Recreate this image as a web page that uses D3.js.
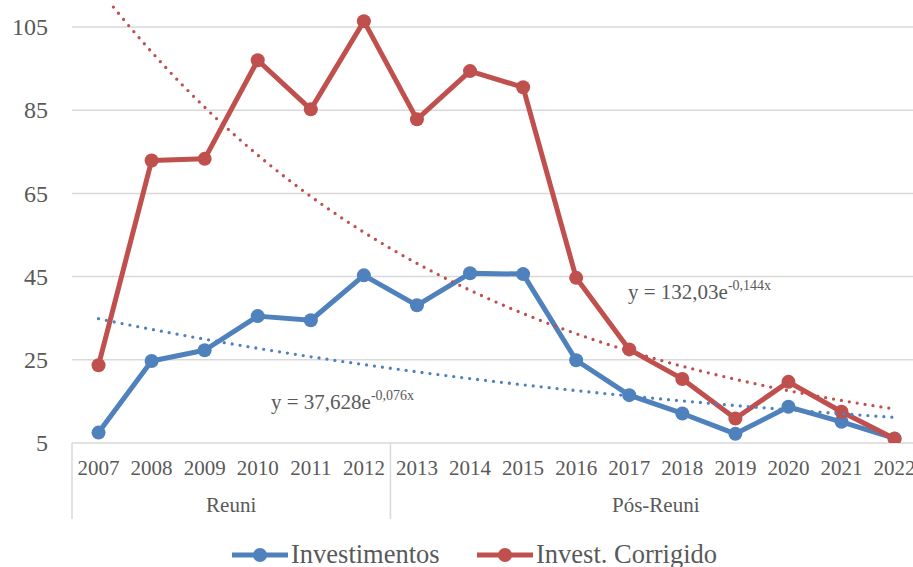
<!DOCTYPE html>
<html>
<head>
<meta charset="utf-8">
<script src="https://cdn.jsdelivr.net/npm/d3@7"></script>
<style>
    html, body { margin: 0; padding: 0; background: #fff; overflow: hidden; }
    svg { display: block; }
    svg text { font-family: 'Liberation Serif', 'DejaVu Serif', serif; }
    .grid line { stroke: #d9d9d9; stroke-width: 1.5; }
    .tick-label, .group-label, .legend-label, .equation { fill: #595959; }
    .sep { stroke: #d9d9d9; stroke-width: 1.5; }
</style>
</head>
<body>
<div id="chart"></div>
<script>
(function (d3) {
    'use strict';

    var years = ['2007', '2008', '2009', '2010', '2011', '2012', '2013', '2014',
        '2015', '2016', '2017', '2018', '2019', '2020', '2021', '2022'];
    var investimentos = [7.5, 24.7, 27.3, 35.5, 34.5, 45.3, 38.1, 45.8,
        45.6, 24.9, 16.5, 12.1, 7.2, 13.7, 10.1, 6.1];
    var corrigido = [23.7, 72.9, 73.3, 97.0, 85.2, 106.4, 82.8, 94.4,
        90.5, 44.7, 27.5, 20.4, 10.9, 19.7, 12.5, 6.0];
    var groups = [
        {name: 'Reuni', from: '2007', to: '2012'},
        {name: 'Pós-Reuni', from: '2013', to: '2022'}
    ];
    var yTicks = [5, 25, 45, 65, 85, 105];

    // Exponential trendlines as printed on the chart: y = a * e^(b * x), x = 1..n
    var trendBlue = {a: 37.628, b: -0.076, label: '37,628', exp: '-0,076x'};
    var trendRed = {a: 132.03, b: -0.144, label: '132,03', exp: '-0,144x'};

    var blue = '#4f81bd';
    var red = '#c0504d';

    var width = 913;
    var height = 567;
    var left = 72;
    var band = 53.07;
    var yTop = 27;
    var yBottom = 443;

    var svg = d3.select('#chart').append('svg')
        .attr('width', width)
        .attr('height', height)
        .attr('font-family', 'Liberation Serif, serif')
    ;

    svg.append('defs').append('clipPath')
        .attr('id', 'plot-clip')
        .append('rect')
        .attr('x', left)
        .attr('y', 3)
        .attr('width', width - left)
        .attr('height', yBottom - 3)
    ;

    var x = d3.scaleBand()
        .domain(years)
        .range([left, left + band * years.length])
        .padding(0)
    ;
    var cx = function (d) { return x(d) + x.bandwidth() / 2; };

    var y = d3.scaleLinear()
        .domain([5, 105])
        .range([yBottom, yTop])
    ;

    // Continuous x for trendlines (1 = first category).
    var xi = d3.scaleLinear()
        .domain([1, years.length])
        .range([cx(years[0]), cx(years[years.length - 1])])
    ;

    // Gridlines
    svg.append('g')
        .attr('class', 'grid')
        .selectAll('line')
        .data(yTicks)
        .join('line')
        .attr('x1', left)
        .attr('x2', width)
        .attr('y1', function (d) { return y(d); })
        .attr('y2', function (d) { return y(d); })
    ;

    // Y labels
    svg.append('g')
        .selectAll('text')
        .data(yTicks)
        .join('text')
        .attr('class', 'tick-label')
        .attr('x', 48)
        .attr('y', function (d) { return y(d); })
        .attr('dy', '0.34em')
        .attr('text-anchor', 'end')
        .style('font-size', '24px')
        .text(function (d) { return d; })
    ;

    // X labels
    svg.append('g')
        .selectAll('text')
        .data(years)
        .join('text')
        .attr('class', 'tick-label')
        .attr('x', cx)
        .attr('y', 475)
        .attr('text-anchor', 'middle')
        .style('font-size', '21px')
        .text(function (d) { return d; })
    ;

    // Group separators and labels
    var seps = [x(groups[0].from)].concat(groups.map(function (g) { return x(g.to) + x.bandwidth(); }));
    svg.append('g')
        .selectAll('line')
        .data(seps)
        .join('line')
        .attr('class', 'sep')
        .attr('x1', function (d) { return d; })
        .attr('x2', function (d) { return d; })
        .attr('y1', yBottom)
        .attr('y2', 519)
    ;

    svg.append('g')
        .selectAll('text')
        .data(groups)
        .join('text')
        .attr('class', 'group-label')
        .attr('x', function (g) { return (x(g.from) + x(g.to) + x.bandwidth()) / 2; })
        .attr('y', 512)
        .attr('text-anchor', 'middle')
        .style('font-size', '21px')
        .text(function (g) { return g.name; })
    ;

    var plot = svg.append('g').attr('clip-path', 'url(#plot-clip)');

    var line = d3.line()
        .x(function (d, i) { return cx(years[i]); })
        .y(function (d) { return y(d); })
    ;

    drawSeries(investimentos, blue);
    drawSeries(corrigido, red);
    drawTrend(trendBlue, blue);
    drawTrend(trendRed, red);

    function drawSeries(values, color) {
        plot.append('path')
            .datum(values)
            .attr('d', line)
            .attr('fill', 'none')
            .attr('stroke', color)
            .attr('stroke-width', 5)
            .attr('stroke-linejoin', 'round')
        ;
        plot.append('g')
            .selectAll('circle')
            .data(values)
            .join('circle')
            .attr('cx', function (d, i) { return cx(years[i]); })
            .attr('cy', function (d) { return y(d); })
            .attr('r', 7)
            .attr('fill', color)
        ;
    }

    function drawTrend(t, color) {
        var pts = d3.range(1, years.length + 0.001, 0.05);
        var trend = d3.line()
            .x(function (k) { return xi(k); })
            .y(function (k) { return y(t.a * Math.exp(t.b * k)); })
        ;
        plot.append('path')
            .datum(pts)
            .attr('d', trend)
            .attr('fill', 'none')
            .attr('stroke', color)
            .attr('stroke-width', 3.3)
            .attr('stroke-linecap', 'round')
            .attr('stroke-dasharray', '0 8')
        ;
    }

    // Equation labels
    equation(trendBlue, 271, 409);
    equation(trendRed, 628, 299);

    function equation(t, ex, ey) {
        var txt = svg.append('text')
            .attr('class', 'equation')
            .attr('x', ex)
            .attr('y', ey)
            .style('font-size', '21px')
        ;
        txt.append('tspan').text('y = ' + t.label + 'e');
        txt.append('tspan')
            .attr('dy', -9)
            .style('font-size', '14px')
            .text(t.exp)
        ;
    }

    // Legend
    legend(232, 'Investimentos', blue);
    legend(477, 'Invest. Corrigido', red);

    function legend(lx, name, color) {
        var g = svg.append('g').attr('transform', translate(lx, 555));
        g.append('line')
            .attr('x1', 0)
            .attr('x2', 56)
            .attr('stroke', color)
            .attr('stroke-width', 5)
        ;
        g.append('circle')
            .attr('cx', 28)
            .attr('r', 7)
            .attr('fill', color)
        ;
        g.append('text')
            .attr('class', 'legend-label')
            .attr('x', 59)
            .attr('y', 8)
            .style('font-size', '26.5px')
            .text(name)
        ;
    }

    function translate(tx, ty) {
        return 'translate(' + tx + ', ' + ty + ')';
    }
})(d3);
</script>
</body>
</html>
